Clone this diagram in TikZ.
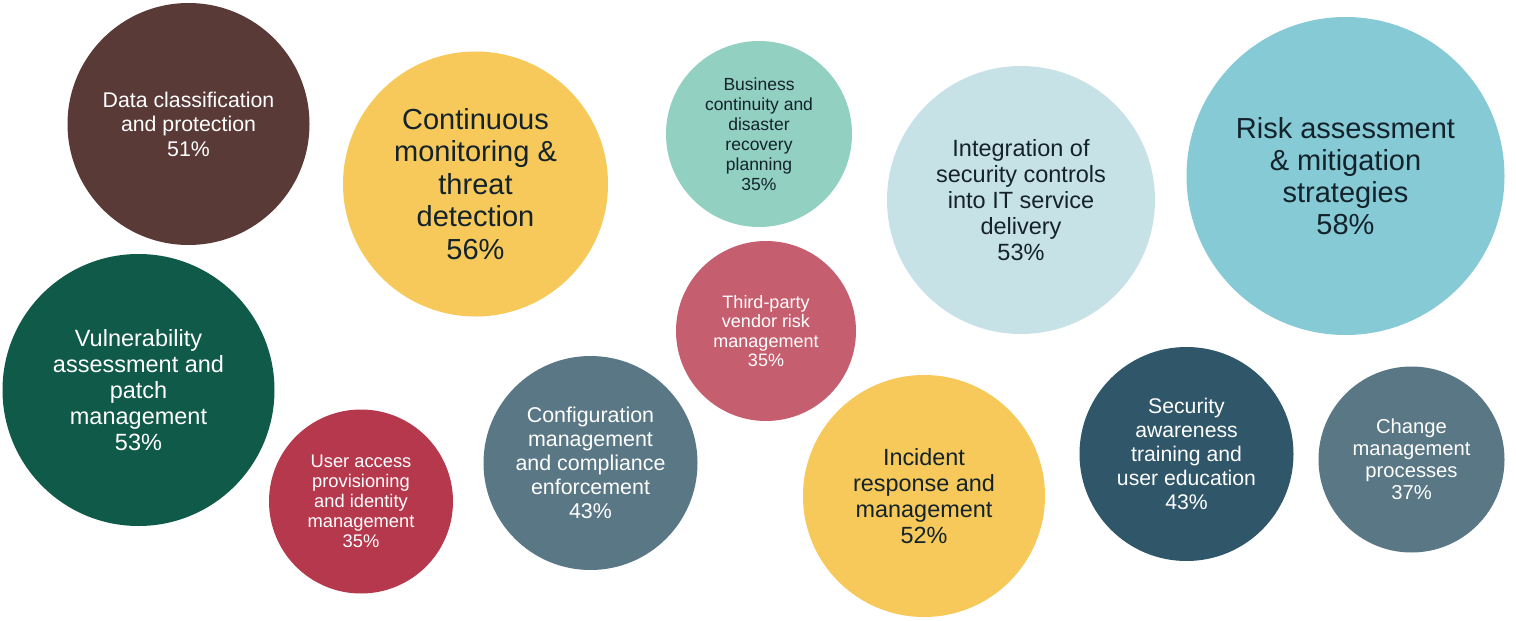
\documentclass[tikz,border=0pt]{standalone}
\usepackage{fontspec}
\setmainfont{Liberation Sans}
\definecolor{cbrown}{HTML}{5A3A37}
\definecolor{cyellow}{HTML}{F6C95A}
\definecolor{cmint}{HTML}{92D0C1}
\definecolor{clblue}{HTML}{C7E2E7}
\definecolor{cteal}{HTML}{86CAD6}
\definecolor{cgreen}{HTML}{0F5A48}
\definecolor{cred}{HTML}{B5384D}
\definecolor{cslate}{HTML}{5A7785}
\definecolor{cpink}{HTML}{C55F70}
\definecolor{cdblue}{HTML}{2F5669}
\definecolor{ctext}{HTML}{13222B}
\newcommand\bsz[2]{\fontsize{#1pt}{#2pt}\selectfont}
\begin{document}
\begin{tikzpicture}[x=1pt,y=-1pt,
  bubble/.style={circle, inner sep=0pt, outer sep=0pt, align=center},
  lighttext/.style={text=white},
  darktext/.style={text=ctext}]
\useasboundingbox[fill=white] (0,0) rectangle (1516,621);
\node[bubble, lighttext, fill=cbrown, minimum size=242pt, font=\bsz{21.3}{24.5}] (dcp) at (188.5,124)
  {Data classification\\and protection\\51\%};
\node[bubble, darktext, fill=cyellow, minimum size=265pt, font=\bsz{29}{32.5}] (cmt) at (475.5,184)
  {Continuous\\monitoring \&\\threat\\detection\\56\%};
\node[bubble, darktext, fill=cmint, minimum size=186pt, font=\bsz{17.5}{20}] (bcd) at (759,134)
  {Business\\continuity and\\disaster\\recovery\\planning\\35\%};
\node[bubble, darktext, fill=clblue, minimum size=268pt, font=\bsz{23.5}{26}] (isc) at (1021,200)
  {Integration of\\security controls\\into IT service\\delivery\\53\%};
\node[bubble, darktext, fill=cteal, minimum size=318pt, font=\bsz{29}{32}] (ram) at (1345.5,176)
  {Risk assessment\\\& mitigation\\strategies\\58\%};
\node[bubble, lighttext, fill=cgreen, minimum size=272pt, font=\bsz{23.5}{26}] (vap) at (138.5,390)
  {Vulnerability\\assessment and\\patch\\management\\53\%};
\node[bubble, lighttext, fill=cred, minimum size=184pt, font=\bsz{18.3}{20}] (uap) at (361,501.5)
  {User access\\provisioning\\and identity\\management\\35\%};
\node[bubble, lighttext, fill=cslate, minimum size=214pt, font=\bsz{21.4}{24}] (cmc) at (590.5,463)
  {Configuration\\management\\and compliance\\enforcement\\43\%};
\node[bubble, lighttext, fill=cpink, minimum size=180pt, font=\bsz{18}{19.5}] (tpv) at (766,331)
  {Third-party\\vendor risk\\management\\35\%};
\node[bubble, darktext, fill=cyellow, minimum size=242pt, font=\bsz{23.4}{26}] (irm) at (924,496)
  {Incident\\response and\\management\\52\%};
\node[bubble, lighttext, fill=cdblue, minimum size=214pt, font=\bsz{21.2}{24}] (sat) at (1186.5,454)
  {Security\\awareness\\training and\\user education\\43\%};
\node[bubble, lighttext, fill=cslate, minimum size=186pt, font=\bsz{20.2}{22}] (chm) at (1411.5,459.5)
  {Change\\management\\processes\\37\%};
\end{tikzpicture}
\end{document}
